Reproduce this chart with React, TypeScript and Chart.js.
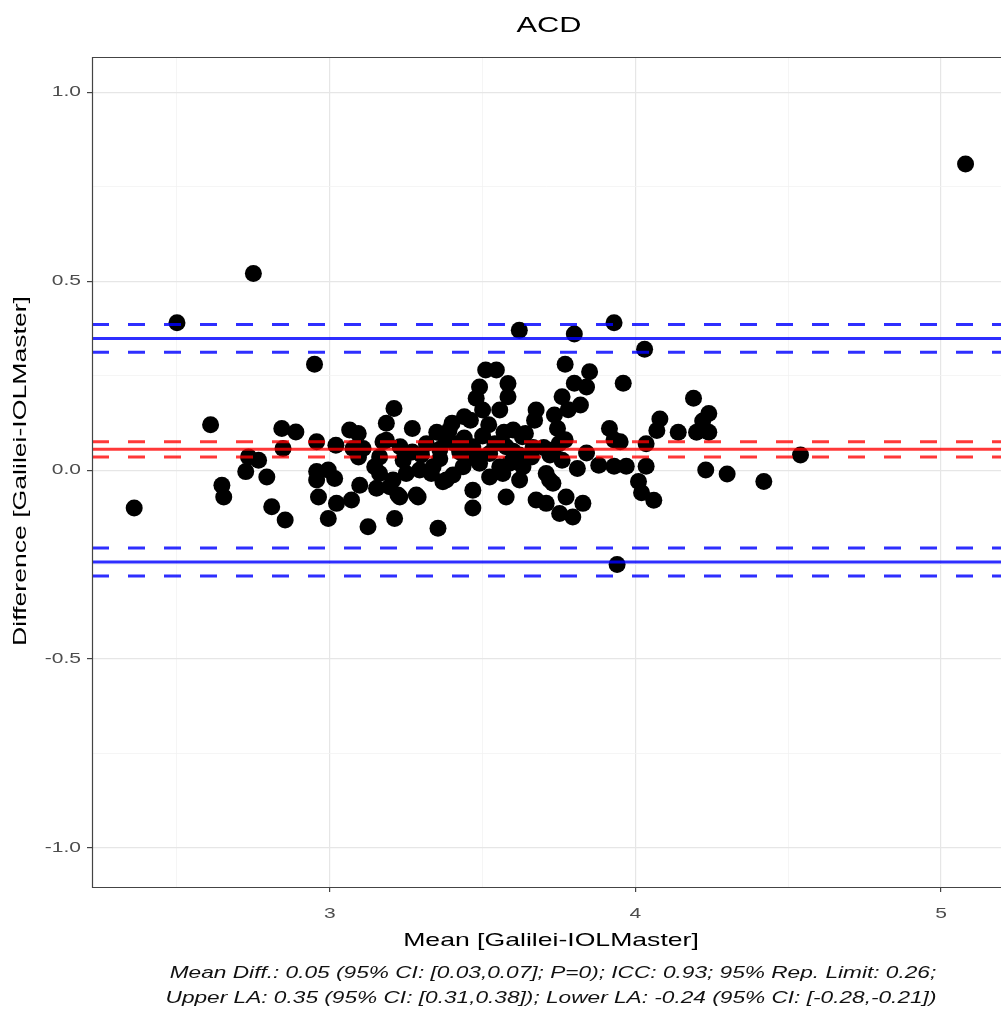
import React, { useEffect, useRef } from 'react';
import { Chart, registerables } from 'chart.js';
Chart.register(...registerables);

const meanX = [
  5.08, 2.75, 2.50, 2.36, 2.95, 2.61, 3.62, 3.93, 3.80, 4.03, 3.94, 3.77, 3.85, 3.84, 3.80, 3.96, 4.19, 4.54, 4.42, 4.30,
  4.23, 4.24, 4.22, 4.20, 4.24, 4.08, 4.07, 4.14, 3.915, 3.95, 4.035, 4.035, 3.97, 3.93, 3.88, 4.01, 4.02, 4.06, 3.93, 3.84,
  3.77, 3.75, 3.73, 3.76, 3.81, 3.665, 3.66, 3.63, 3.64, 3.60, 3.675, 3.67, 3.735, 3.745, 3.76, 3.78, 3.82, 3.51, 3.545, 3.49,
  3.583, 3.479, 3.583, 3.50, 3.556, 3.44, 3.46, 3.40, 3.35, 3.27, 3.21, 3.185, 3.174, 3.163, 3.185, 3.23, 3.27, 3.316, 3.38, 3.425,
  3.468, 3.523, 3.577, 3.163, 3.196, 3.229, 3.212, 3.289, 3.294, 3.338, 3.381, 3.354, 3.436, 3.468, 3.468, 3.49, 3.566, 3.577, 3.621, 3.632,
  3.675, 3.708, 3.719, 3.752, 3.795, 3.773, 3.828, 3.25, 3.24, 3.332, 3.37, 3.403, 3.49, 3.523, 3.556, 3.588, 3.283, 3.708, 3.73, 2.843,
  2.889, 2.734, 2.767, 2.725, 2.794, 2.647, 2.653, 2.810, 2.854, 2.847, 2.957, 3.02, 3.065, 3.093, 3.076, 3.109, 2.957, 2.995, 2.957, 3.016,
  2.963, 3.022, 2.995, 3.071, 3.098, 3.125, 3.147, 3.153, 3.207, 3.223, 3.094, 3.30, 3.36, 3.41, 3.45, 3.54, 3.60, 3.62, 3.70, 3.72,
  3.36, 3.44, 3.50, 3.57, 3.52, 3.39
];
const diffY = [
  0.81, 0.52, 0.39, -0.10, 0.28, 0.12, 0.37, 0.39, 0.36, 0.32, -0.25, 0.28, 0.26, 0.22, 0.23, 0.23, 0.19, 0.04, -0.03, -0.01,
  0.00, 0.15, 0.13, 0.10, 0.10, 0.135, 0.105, 0.10, 0.11, 0.075, 0.07, 0.01, 0.01, 0.01, 0.013, -0.03, -0.06, -0.08, 0.08, 0.045,
  0.08, 0.07, 0.053, 0.026, 0.004, 0.06, 0.035, 0.088, 0.097, 0.106, 0.159, 0.132, 0.146, 0.11, 0.194, 0.16, 0.172, 0.265, 0.265, 0.22,
  0.229, 0.19, 0.194, 0.159, 0.159, 0.141, 0.132, 0.124, 0.10, 0.11, 0.163, 0.124, 0.075, 0.035, 0.079, 0.062, 0.048, 0.07, 0.079, 0.048,
  0.062, 0.044, 0.062, -0.009, -0.044, -0.071, -0.128, -0.071, 0.0, 0.009, -0.026, -0.154, 0.009, -0.053, -0.10, 0.035, -0.009, -0.071, -0.026, 0.009,
  -0.079, -0.088, -0.026, -0.115, -0.124, -0.071, -0.088, -0.009, 0.026, -0.009, -0.031, -0.013, 0.018, -0.018, 0.009, 0.018, -0.066, -0.009, -0.035, 0.110,
  0.101, 0.035, 0.026, -0.004, -0.018, -0.040, -0.071, -0.097, -0.132, 0.057, 0.075, 0.066, 0.106, 0.097, 0.057, 0.057, -0.004, 0.0, -0.026, -0.022,
  -0.071, -0.088, -0.128, -0.079, -0.040, -0.15, 0.009, -0.048, -0.026, -0.066, 0.035, 0.04, 0.055, 0.07, 0.03, 0.07, 0.05, 0.04, 0.06, 0.04,
  0.03, 0.085, 0.09, 0.10, 0.12, 0.105
];

const meanDiff = 0.055;
const meanDiffCI = [0.035, 0.075];
const upperLA = 0.348;
const upperLACI = [0.312, 0.385];
const lowerLA = -0.243;
const lowerLACI = [-0.28, -0.206];

const xRange = [2.222, 5.196];
const yRange = [-1.103, 1.093];
const xGridValues = [2.5, 3, 3.5, 4, 4.5, 5];
const yGridValues = [-1, -0.75, -0.5, -0.25, 0, 0.25, 0.5, 0.75, 1];

const titleText = 'ACD';
const xTitle = 'Mean [Galilei-IOLMaster]';
const yTitle = 'Difference [Galilei-IOLMaster]';
const captionLines = [
  'Mean Diff.: 0.05 (95% CI: [0.03,0.07]; P=0); ICC: 0.93; 95% Rep. Limit: 0.26;',
  'Upper LA: 0.35 (95% CI: [0.31,0.38]); Lower LA: -0.24 (95% CI: [-0.28,-0.21])',
];

const FONT = '"Liberation Sans", Arial, sans-serif';
const RED = 'rgba(255,0,0,0.78)';
const BLUE = 'rgba(0,0,255,0.82)';
const SX = 1.4;

function hline(y: number, color: string, dashed: boolean) {
  return {
    type: 'line' as const,
    data: [{ x: xRange[0], y }, { x: xRange[1], y }],
    borderColor: color,
    borderWidth: 3,
    borderDash: dashed ? [17, 19] : [],
    pointRadius: 0,
    showLine: true,
    fill: false,
    order: 1,
  };
}

function drawText(ctx: CanvasRenderingContext2D, text: string, x: number, y: number, font: string, color: string, align: CanvasTextAlign, rotate = 0) {
  ctx.save();
  ctx.translate(x, y);
  if (rotate) ctx.rotate(rotate);
  ctx.scale(SX, 1);
  ctx.font = font;
  ctx.fillStyle = color;
  ctx.textAlign = align;
  ctx.textBaseline = 'middle';
  ctx.fillText(text, 0, 0);
  ctx.restore();
}

const isInt = (v: number) => Math.abs(v - Math.round(v)) < 1e-6;
const halfStep = (v: number) => Math.abs(v * 2 - Math.round(v * 2)) < 1e-6;

export default function App() {
  const ref = useRef<HTMLCanvasElement | null>(null);
  useEffect(() => {
    document.body.style.margin = '0';
    const textPlugin = {
      id: 'texts',
      afterDraw(chart: any) {
        const { ctx, chartArea: a } = chart;
        ctx.save();
        ctx.strokeStyle = '#444';
        ctx.lineWidth = 1.2;
        ctx.beginPath();
        ctx.moveTo(a.right + 2, a.top + 0.5);
        ctx.lineTo(a.left + 0.5, a.top + 0.5);
        ctx.lineTo(a.left + 0.5, a.bottom + 0.5);
        ctx.lineTo(a.right + 2, a.bottom + 0.5);
        ctx.stroke();
        ctx.restore();
        const xs = chart.scales.x;
        const ys = chart.scales.y;
        const tickFont = `15px ${FONT}`;
        xGridValues.filter(isInt).forEach((v) => {
          drawText(ctx, String(v), xs.getPixelForValue(v), a.bottom + 27, tickFont, '#4d4d4d', 'center');
        });
        yGridValues.filter(halfStep).forEach((v) => {
          drawText(ctx, v.toFixed(1), a.left - 11, ys.getPixelForValue(v), tickFont, '#4d4d4d', 'right');
        });
        drawText(ctx, titleText, 549, 26, `22px ${FONT}`, '#000', 'center');
        drawText(ctx, xTitle, 551, 941, `19px ${FONT}`, '#000', 'center');
        drawText(ctx, yTitle, 21, 471, `19px ${FONT}`, '#000', 'center', -Math.PI / 2);
        drawText(ctx, captionLines[0], 553, 973, `italic 16.2px ${FONT}`, '#111', 'center');
        drawText(ctx, captionLines[1], 551, 998, `italic 16.2px ${FONT}`, '#111', 'center');
      },
    };
    const chart = new Chart(ref.current as HTMLCanvasElement, {
      type: 'scatter',
      data: {
        datasets: [
          {
            type: 'scatter',
            data: meanX.map((x, i) => ({ x, y: diffY[i] })),
            backgroundColor: '#000',
            borderColor: '#000',
            pointRadius: 8.5,
            borderWidth: 0,
            order: 10,
          } as any,
          hline(meanDiff, RED, false),
          hline(meanDiffCI[0], RED, true),
          hline(meanDiffCI[1], RED, true),
          hline(upperLA, BLUE, false),
          hline(upperLACI[0], BLUE, true),
          hline(upperLACI[1], BLUE, true),
          hline(lowerLA, BLUE, false),
          hline(lowerLACI[0], BLUE, true),
          hline(lowerLACI[1], BLUE, true),
        ],
      },
      options: {
        responsive: false,
        animation: false,
        layout: { autoPadding: false, padding: { left: 0, top: 57, right: 0, bottom: 0 } },
        plugins: { legend: { display: false }, tooltip: { enabled: false }, title: { display: false } },
        scales: {
          x: {
            type: 'linear',
            min: xRange[0],
            max: xRange[1],
            afterBuildTicks: (s: any) => { s.ticks = xGridValues.map((v) => ({ value: v })); },
            afterFit: (s: any) => { s.height = 128; s.paddingLeft = 0; s.paddingRight = 0; },
            border: { display: false },
            grid: {
              color: (c: any) => (c.tick && isInt(c.tick.value) ? '#e6e6e6' : '#f3f3f3'),
              lineWidth: (c: any) => (c.tick && isInt(c.tick.value) ? 1.2 : 0.8),
              tickColor: (c: any) => (c.tick && isInt(c.tick.value) ? '#444' : 'rgba(0,0,0,0)'),
              tickLength: 5,
              drawTicks: true,
            },
            ticks: {
              color: 'rgba(0,0,0,0)',
              font: { family: FONT, size: 14 },
              padding: 10,
              maxRotation: 0,
              autoSkip: false,
              callback: (v: any) => (isInt(Number(v)) ? String(v) : ''),
            },
          },
          y: {
            type: 'linear',
            min: yRange[0],
            max: yRange[1],
            afterBuildTicks: (s: any) => { s.ticks = yGridValues.map((v) => ({ value: v })); },
            afterFit: (s: any) => { s.width = 92; s.paddingTop = 0; s.paddingBottom = 0; },
            border: { display: false },
            grid: {
              color: (c: any) => (c.tick && halfStep(c.tick.value) ? '#e6e6e6' : '#f3f3f3'),
              lineWidth: (c: any) => (c.tick && halfStep(c.tick.value) ? 1.2 : 0.8),
              tickColor: (c: any) => (c.tick && halfStep(c.tick.value) ? '#444' : 'rgba(0,0,0,0)'),
              tickLength: 5,
              drawTicks: true,
            },
            ticks: {
              color: 'rgba(0,0,0,0)',
              font: { family: FONT, size: 14 },
              padding: 5,
              autoSkip: false,
              callback: (v: any) => (halfStep(Number(v)) ? Number(v).toFixed(1) : ''),
            },
          },
        },
      },
      plugins: [textPlugin],
    } as any);
    return () => chart.destroy();
  }, []);
  return (
    <div style={{ width: 1001, height: 1015, background: '#fff' }}>
      <canvas ref={ref} width={1001} height={1015} style={{ display: 'block' }} />
    </div>
  );
}
